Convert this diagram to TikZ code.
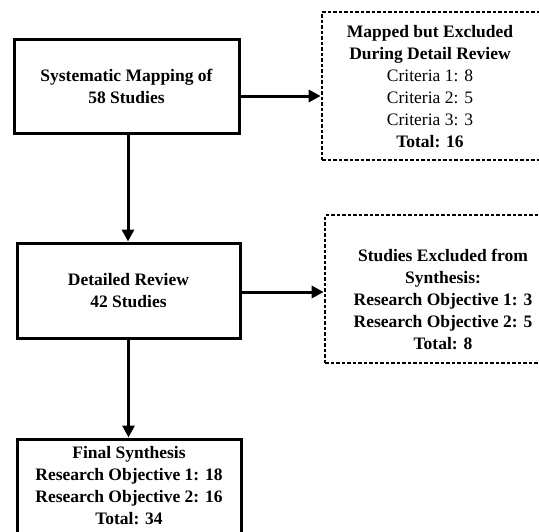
\documentclass[tikz,border=0pt]{standalone}
\usepackage{fontspec}
\setmainfont{Liberation Serif}
\usetikzlibrary{arrows.meta}
\begin{document}
\begin{tikzpicture}[x=1pt,y=-1pt,
  txt/.style={font=\fontsize{17.5}{22}\selectfont\bfseries, align=center, inner sep=0pt},
  solidbox/.style={draw=black, line width=3pt, rectangle, inner sep=0pt, txt},
  dotbox/.style={draw=black, line width=2.6pt, dash pattern=on 3.5pt off 2pt, rectangle, inner sep=0pt},
  arr/.style={line width=3pt, -{Triangle[length=12pt,width=12pt]}}
]
\useasboundingbox (0,0) rectangle (539,531);
\clip (0,0) rectangle (539,531);
\fill[white] (0,0) rectangle (539,531);

\node[solidbox, minimum width=225pt, minimum height=94pt] (b1) at (126.5,86)
  {Systematic Mapping of\\58 Studies};
\node[solidbox, minimum width=223pt, minimum height=95pt] (b2) at (128.5,290.5)
  {Detailed Review\\42 Studies};
\node[solidbox, minimum width=224pt, minimum height=94pt] (b3) at (129,486)
  {Final Synthesis\\Research Objective 1: 18\\Research Objective 2: 16\\Total: 34};

\node[dotbox, minimum width=222pt, minimum height=148pt] (d1) at (433,86) {};
\node[txt] (t1) at (430,87)
  {Mapped but Excluded\\During Detail Review\\{\mdseries Criteria 1: 8}\\{\mdseries Criteria 2: 5}\\{\mdseries Criteria 3: 3}\\Total: 16};

\node[dotbox, minimum width=236pt, minimum height=148pt] (d2) at (443,289) {};
\node[txt] (t2) at (443,299)
  {Studies Excluded from\\Synthesis:\\Research Objective 1: 3\\Research Objective 2: 5\\Total: 8};

\draw[arr] ([yshift=-10pt]b1.east) -- ([yshift=-10pt]b1.east -| d1.west);
\draw[arr] ([yshift=-1.5pt]b2.east) -- ([yshift=-1.5pt]b2.east -| d2.west);
\draw[arr] ([xshift=1.5pt]b1.south) -- ([xshift=1.5pt]b1.south |- b2.north);
\draw[arr] (b2.south) -- (b2.south |- b3.north);
\end{tikzpicture}
\end{document}
